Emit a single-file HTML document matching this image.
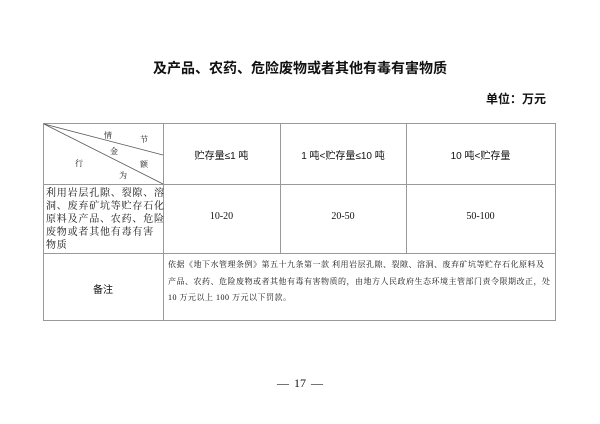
<!DOCTYPE html>
<html><head><meta charset="utf-8"><style>
body{margin:0;width:600px;height:424px;background:#fff;font-family:"Liberation Sans","Noto Sans CJK SC",sans-serif;color:#111;position:relative;overflow:hidden}
.a{position:absolute;white-space:nowrap}
.s{font-family:"Liberation Serif","Noto Serif CJK SC",serif}
.l{position:absolute;background:#999}
</style></head><body>
<div class="a" style="left:0;width:600px;top:58px;text-align:center;font-size:14px;font-weight:bold;">及产品、农药、危险废物或者其他有毒有害物质</div>
<div class="a" style="left:486px;top:90px;font-size:12px;font-weight:bold;">单位：万元</div>
<div class="l" style="left:43px;top:123px;width:513px;height:1px"></div>
<div class="l" style="left:43px;top:184px;width:513px;height:1px"></div>
<div class="l" style="left:43px;top:253px;width:513px;height:1px"></div>
<div class="l" style="left:43px;top:320px;width:513px;height:1px"></div>
<div class="l" style="left:43px;top:123px;width:1px;height:198px"></div>
<div class="l" style="left:555px;top:123px;width:1px;height:198px"></div>
<div class="l" style="left:163px;top:123px;width:1px;height:198px"></div>
<div class="l" style="left:280px;top:123px;width:1px;height:131px"></div>
<div class="l" style="left:406px;top:123px;width:1px;height:131px"></div>
<svg class="a" style="left:0;top:0" width="600" height="424"><line x1="44" y1="124" x2="163" y2="155" stroke="#555" stroke-width="0.8"/><line x1="44" y1="124" x2="163" y2="184" stroke="#555" stroke-width="0.8"/></svg>
<div class="a s" style="left:104px;top:130px;font-size:8px">情</div>
<div class="a s" style="left:140px;top:134px;font-size:8px">节</div>
<div class="a s" style="left:110px;top:146px;font-size:8px">金</div>
<div class="a s" style="left:75px;top:158px;font-size:8px">行</div>
<div class="a s" style="left:140px;top:159px;font-size:8px">额</div>
<div class="a s" style="left:119px;top:170px;font-size:8px">为</div>
<div class="a" style="left:163px;width:117px;top:147px;text-align:center;font-size:10px">贮存量≤1 吨</div>
<div class="a" style="left:280px;width:126px;top:147px;text-align:center;font-size:10px">1 吨&lt;贮存量≤10 吨</div>
<div class="a" style="left:406px;width:149px;top:147px;text-align:center;font-size:10px">10 吨&lt;贮存量</div>
<div class="a s" style="left:46px;top:187px;font-size:10px;line-height:13px;letter-spacing:0.8px">利用岩层孔隙、裂隙、溶<br>洞、废弃矿坑等贮存石化<br>原料及产品、农药、危险<br>废物或者其他有毒有害<br>物质</div>
<div class="a s" style="left:163px;width:117px;top:211px;text-align:center;font-size:10px">10-20</div>
<div class="a s" style="left:280px;width:126px;top:211px;text-align:center;font-size:10px">20-50</div>
<div class="a s" style="left:406px;width:149px;top:211px;text-align:center;font-size:10px">50-100</div>
<div class="a" style="left:43px;width:120px;top:281px;text-align:center;font-size:10px">备注</div>
<div class="a s" style="left:168px;top:257px;font-size:8px;line-height:16.5px;letter-spacing:0.5px">依据《地下水管理条例》第五十九条第一款 利用岩层孔隙、裂隙、溶洞、废弃矿坑等贮存石化原料及<br>产品、农药、危险废物或者其他有毒有害物质的，由地方人民政府生态环境主管部门责令限期改正，处<br>10 万元以上 100 万元以下罚款。</div>
<div class="a s" style="left:0;width:600px;top:376px;text-align:center;font-size:12px;word-spacing:2px">— 17 —</div>
</body></html>
